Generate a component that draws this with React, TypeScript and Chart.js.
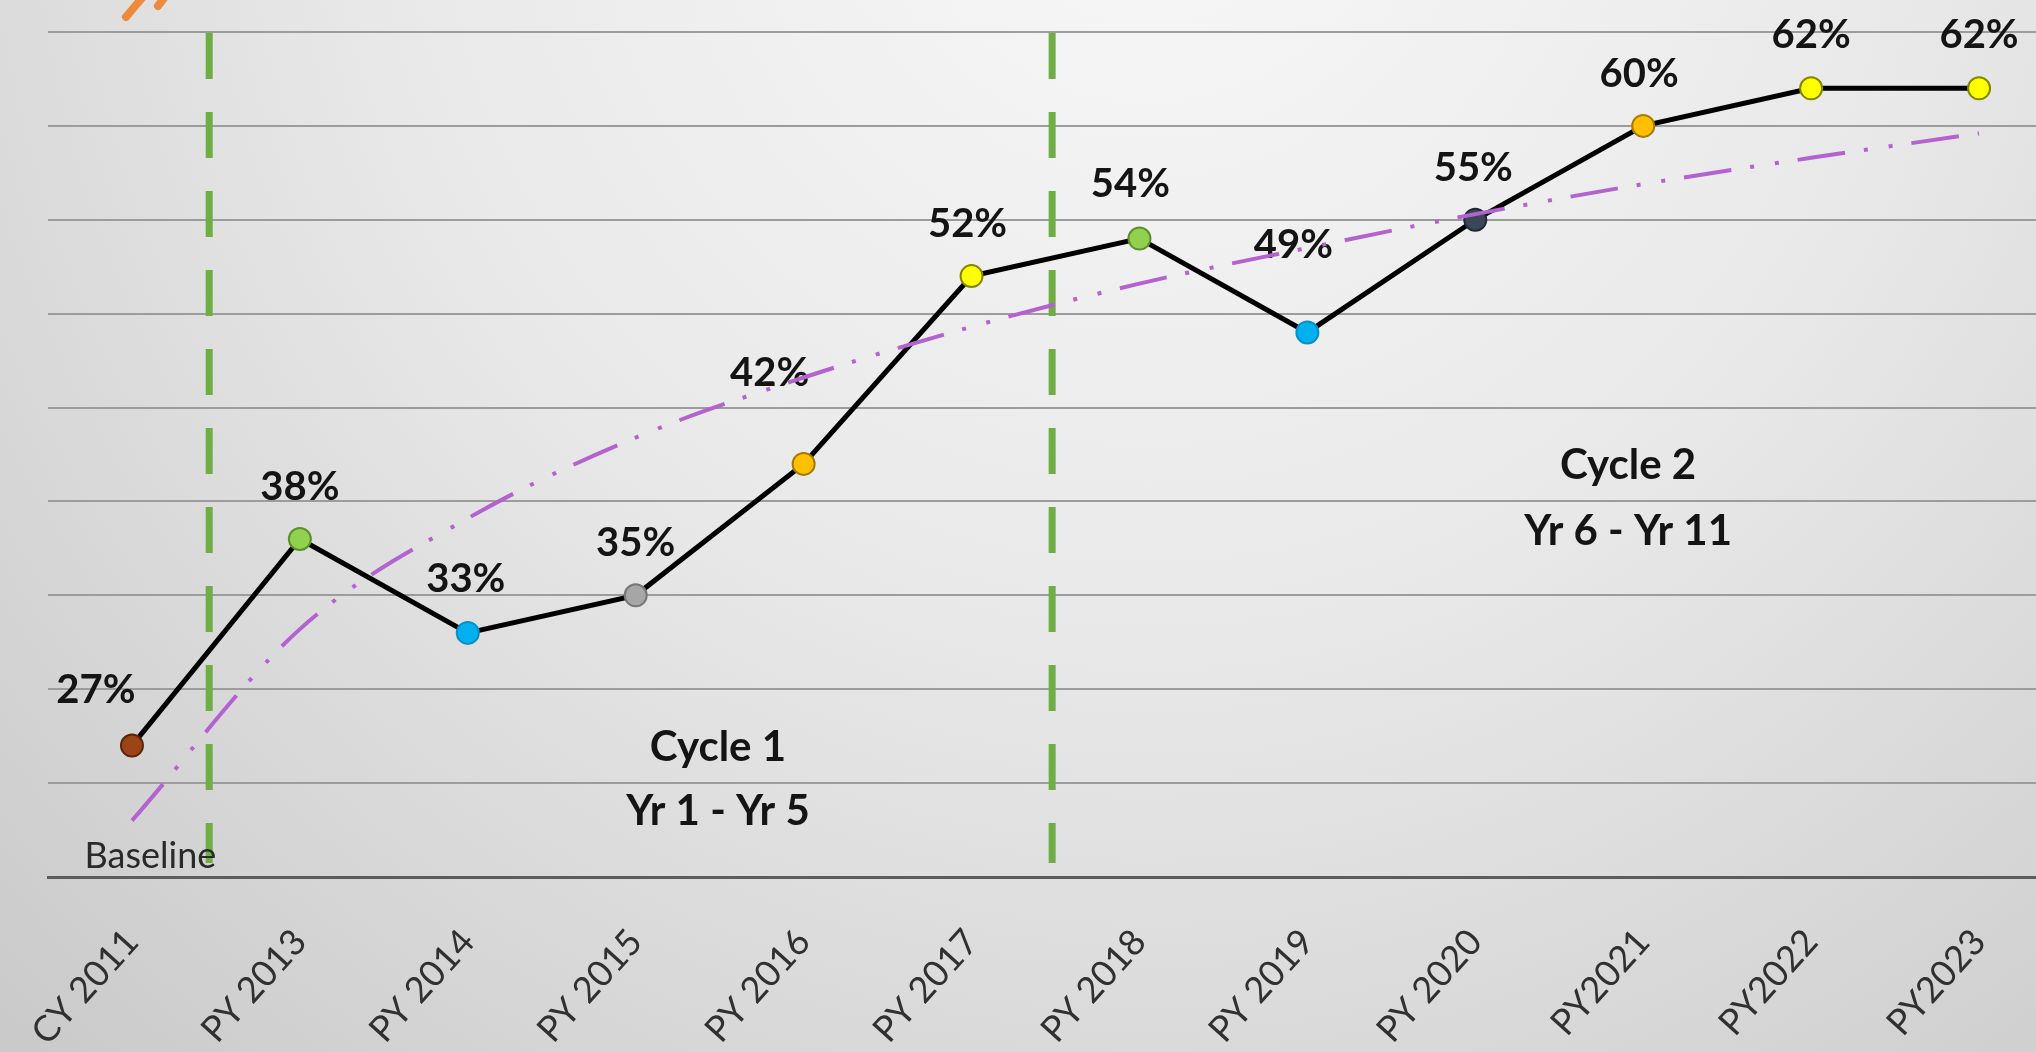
import React, { useEffect, useRef } from "react";
import { Chart, registerables } from "chart.js";

Chart.register(...registerables);

// ---- data ----
const categories = [
  "CY 2011", "PY 2013", "PY 2014", "PY 2015", "PY 2016", "PY 2017",
  "PY 2018", "PY 2019", "PY 2020", "PY2021", "PY2022", "PY2023",
];
const rates = [27, 38, 33, 35, 42, 52, 54, 49, 55, 60, 62, 62];
// trendline at each category
const trendValues = [23.0, 33.2, 39.1, 43.4, 46.6, 49.3, 51.6, 53.5, 55.3, 56.9, 58.3, 59.6];
const markerFills = [
  "#9c4418", "#92d050", "#00b0f0", "#a6a6a6", "#ffc000", "#ffff00",
  "#92d050", "#00b0f0", "#3b4657", "#ffc000", "#ffff00", "#ffff00",
];
const markerBorders = [
  "#5a260a", "#5e8f2c", "#0a8fc4", "#767676", "#a87a00", "#858500",
  "#5e8f2c", "#0a8fc4", "#222a36", "#a87a00", "#858500", "#858500",
];
// cycle dividers, in category units
const cycleDividers = [0.46, 5.48];
// y axis range and gridline step (percent)
const yMin = 20;
const yMax = 65;
const yStep = 5;
// annotations: [category position, value, text, bold]
const notes: [number, number, string, boolean][] = [
  [3.49, 26.9, "Cycle 1", true],
  [3.49, 23.5, "Yr 1 - Yr 5", true],
  [8.91, 41.9, "Cycle 2", true],
  [8.91, 38.4, "Yr 6 - Yr 11", true],
  [0.11, 21.1, "Baseline", false],
];

// ---- style ----
const FONT = "Lato, 'Open Sans', sans-serif";
const labelNudge: [number, number][] = [
  [-36, -55], [0, -52], [-2, -54], [0, -52], [-34, -91], [-4, -52],
  [-9, -54], [-14, -87], [-2, -52], [-4, -52], [0, -53], [0, -53],
];

function catToPx(scale: any, pos: number) {
  const i = Math.floor(pos);
  const f = pos - i;
  const a = scale.getPixelForValue(i);
  const b = scale.getPixelForValue(i + 1);
  return a + (b - a) * f;
}

const backgroundPlugin = {
  id: "bg",
  beforeDraw(chart: any) {
    const { ctx, width, height } = chart;
    ctx.save();
    const g = ctx.createRadialGradient(1150, -150, 0, 1150, -150, 1700);
    g.addColorStop(0, "#f8f8f8");
    g.addColorStop(0.45, "#e9e9e9");
    g.addColorStop(1, "#c8c8c8");
    ctx.fillStyle = g;
    ctx.fillRect(0, 0, width, height);
    // cropped logo fragment at top-left
    ctx.lineCap = "round";
    ctx.strokeStyle = "#ee8a3c";
    ctx.lineWidth = 8;
    ctx.beginPath();
    ctx.moveTo(126, 17);
    ctx.lineTo(142, -2);
    ctx.stroke();
    ctx.beginPath();
    ctx.moveTo(158, 6);
    ctx.lineTo(164, -2);
    ctx.stroke();
    ctx.restore();
  },
};

const dividersPlugin = {
  id: "dividers",
  beforeDatasetsDraw(chart: any) {
    const { ctx, chartArea } = chart;
    const xs = chart.scales.x;
    ctx.save();
    ctx.strokeStyle = "#6fae45";
    ctx.lineWidth = 7;
    ctx.setLineDash([46, 33]);
    cycleDividers.forEach((p) => {
      const x = catToPx(xs, p);
      ctx.beginPath();
      ctx.moveTo(x, chartArea.top + 1);
      ctx.lineTo(x, chartArea.bottom - 14);
      ctx.stroke();
    });
    ctx.restore();
  },
  afterDatasetDraw(chart: any, args: any) {
    if (args.index !== 0) return;
    const { ctx } = chart;
    const xs = chart.scales.x;
    const ys = chart.scales.y;
    ctx.save();
    ctx.textAlign = "center";
    ctx.textBaseline = "middle";
    notes.forEach(([c, v, t, bold]) => {
      ctx.font = bold ? `bold 42px ${FONT}` : `36px ${FONT}`;
      ctx.fillStyle = bold ? "#141414" : "#2a2a2a";
      ctx.fillText(t, catToPx(xs, c), ys.getPixelForValue(v));
    });
    ctx.font = `bold 40px ${FONT}`;
    ctx.fillStyle = "#141414";
    const meta = chart.getDatasetMeta(0);
    meta.data.forEach((pt: any, i: number) => {
      const [dx, dy] = labelNudge[i];
      ctx.fillText(`${rates[i]}%`, pt.x + dx, pt.y + dy);
    });
    ctx.restore();
  },
};

export default function App() {
  const ref = useRef<HTMLCanvasElement | null>(null);
  useEffect(() => {
    const canvas = ref.current!;
    const chart = new Chart(canvas, {
      type: "line",
      data: {
        labels: categories,
        datasets: [
          {
            label: "Rate",
            data: rates,
            borderColor: "#000000",
            borderWidth: 5,
            tension: 0,
            pointRadius: 11,
            pointBorderWidth: 2,
            pointBackgroundColor: markerFills,
            pointBorderColor: markerBorders,
            order: 1,
          },
          {
            label: "Trend",
            data: trendValues,
            borderColor: "#b462cf",
            borderWidth: 4,
            borderDash: [48, 19, 4, 21, 4, 19],
            cubicInterpolationMode: "monotone",
            pointRadius: 0,
            order: 0,
          },
        ],
      },
      options: {
        responsive: false,
        animation: false,
        devicePixelRatio: 1,
        layout: { padding: { left: 48, right: 57, top: 32, bottom: 0 } },
        plugins: { legend: { display: false }, tooltip: { enabled: false } },
        scales: {
          x: {
            offset: true,
            grid: { display: false, drawTicks: false },
            border: { display: true, color: "#5c5c5c", width: 3 },
            ticks: {
              minRotation: 48,
              maxRotation: 48,
              padding: 44,
              color: "#303030",
              font: { family: FONT, size: 36 },
            },
            afterFit: (s: any) => {
              s.height = 1150 - 877;
              s.paddingLeft = 0;
              s.paddingRight = 0;
            },
          },
          y: {
            min: yMin,
            max: yMax,
            ticks: { display: false, stepSize: yStep },
            grid: { color: "#9c9c9c", lineWidth: 2, drawTicks: false, tickLength: 0 },
            border: { display: false },
            afterFit: (s: any) => {
              s.width = 0;
              s.paddingTop = 0;
              s.paddingBottom = 0;
            },
          },
        },
      },
      plugins: [backgroundPlugin, dividersPlugin],
    } as any);
    return () => chart.destroy();
  }, []);
  return (
    <div
      style={{
        position: "fixed",
        left: 0,
        top: 0,
        width: 2036,
        height: 1052,
        overflow: "hidden",
      }}
    >
      <canvas ref={ref} width={2120} height={1150} style={{ position: "absolute", left: 0, top: 0 }} />
    </div>
  );
}
